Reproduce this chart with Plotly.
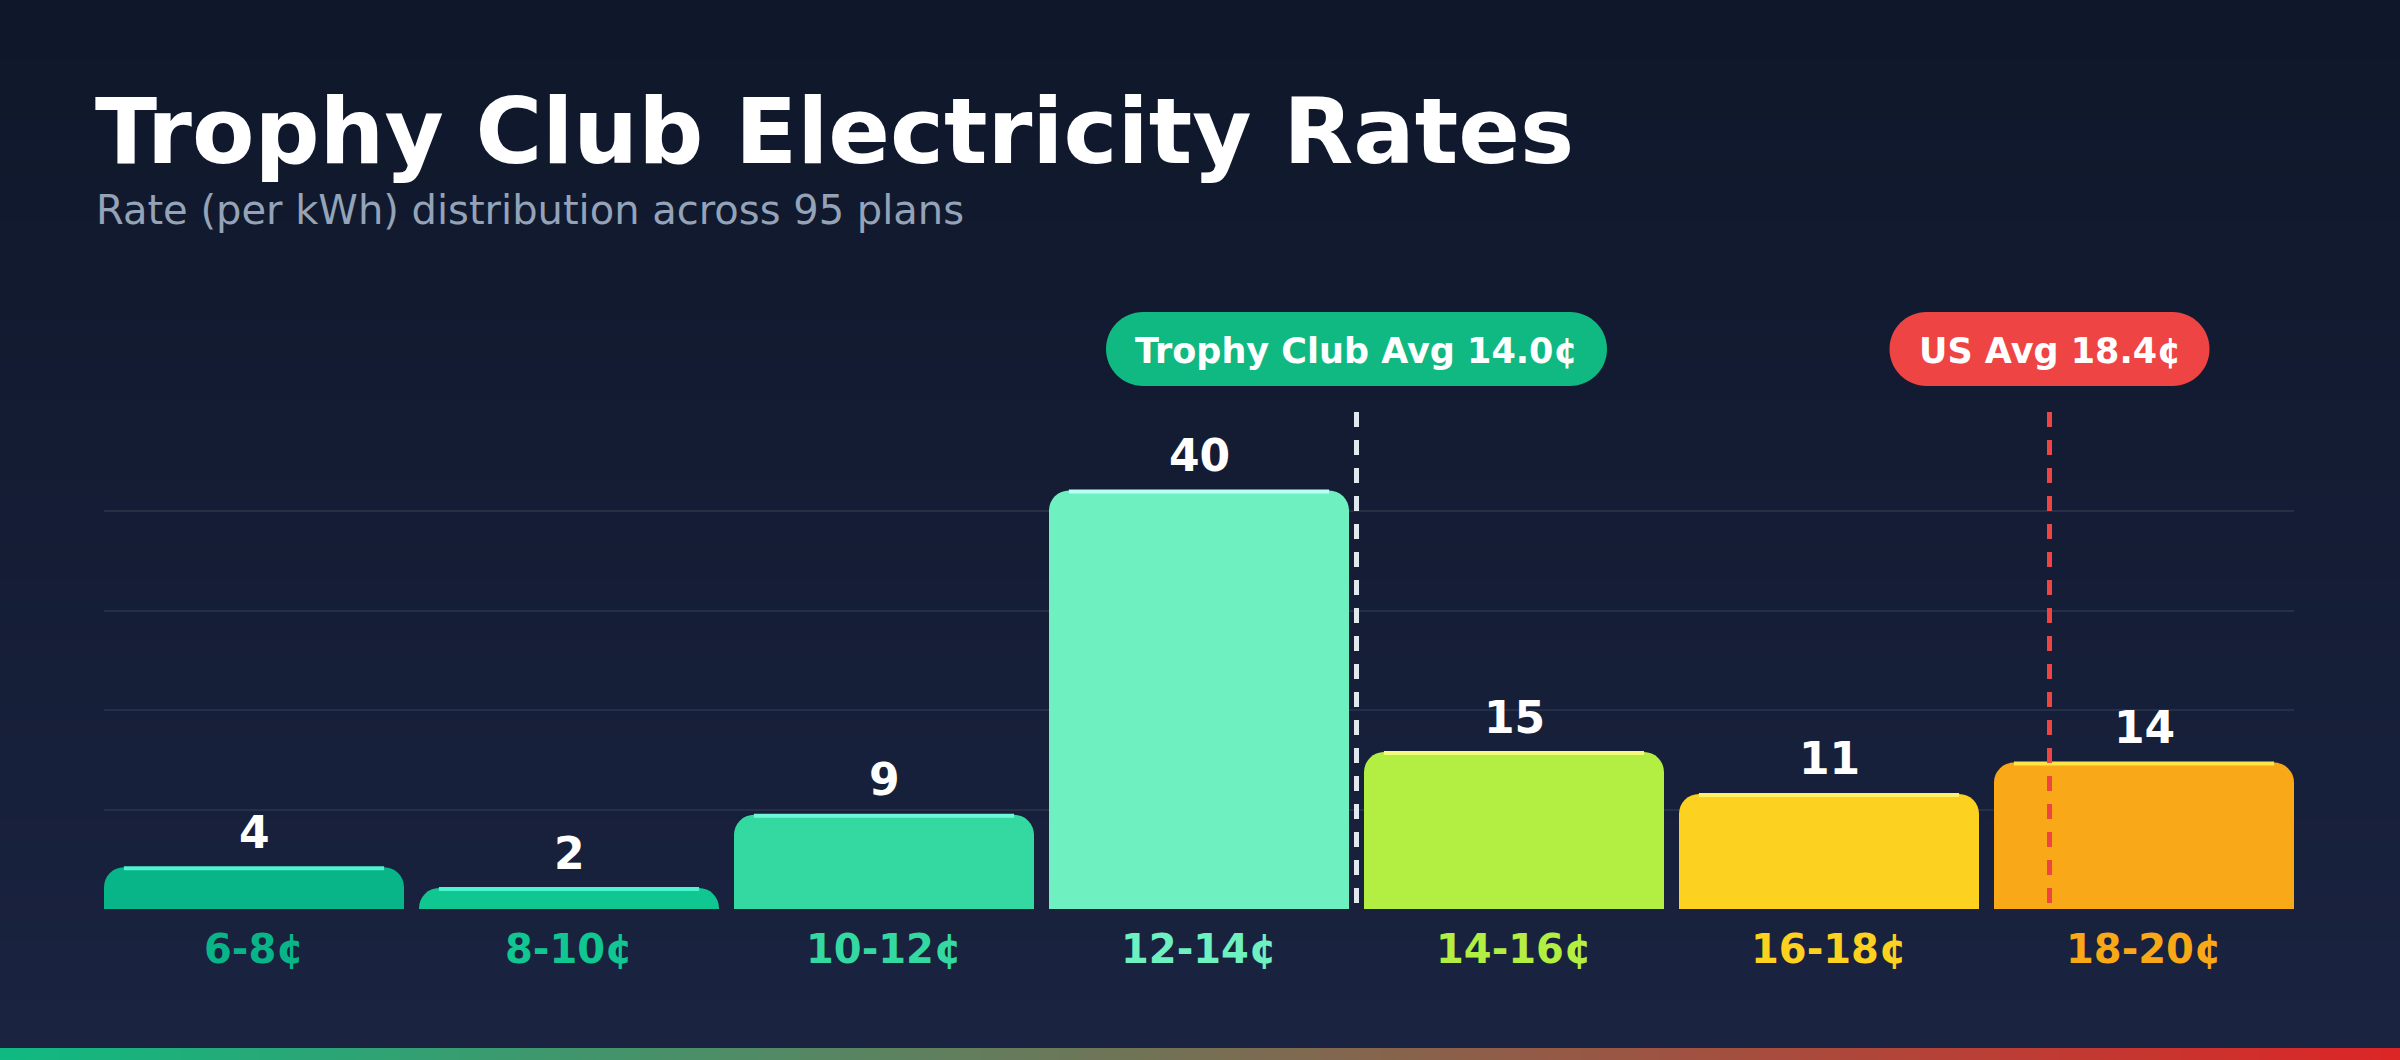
import plotly.graph_objects as go

# rate bins (cents per kWh) and number of plans in each
bins = ["6-8¢", "8-10¢", "10-12¢", "12-14¢", "14-16¢", "16-18¢", "18-20¢"]
bin_start = [6, 8, 10, 12, 14, 16, 18]
plans = [4, 2, 9, 40, 15, 11, 14]

bar_colors = ["#07b589", "#10c791", "#34d9a2", "#6ef0c0", "#b3ee42", "#fdd120", "#f9a817"]
glow_colors = ["#4cf5cf", "#4cf5cf", "#6ff7d9", "#b8fff6", "#f4fb7a", "#fdf36a", "#fde547"]

# reference averages
avg_labels = ["Trophy Club Avg 14.0¢", "US Avg 18.4¢"]
avg_rates = [14.0, 18.4]
avg_colors = ["#10b981", "#ef4444"]
line_colors = ["#e2e8f0", "#ef4444"]

W, H = 2400, 1060
L, R, T, B = 104, 106, 412, 151
PW, PH = W - L - R, H - T - B
FONT = "DejaVu Sans"


def px_x(px):
    return (px - L) / PW


def px_y(py):
    return (H - B - py) / PH


def mix(c1, c2, t):
    a = [int(c1[i:i + 2], 16) for i in (1, 3, 5)]
    b = [int(c2[i:i + 2], 16) for i in (1, 3, 5)]
    return "rgb(%d,%d,%d)" % tuple(round(a[k] + (b[k] - a[k]) * t) for k in range(3))


bin_w = bin_start[1] - bin_start[0]


def rate_pos(r):
    return (r - bin_start[0]) / bin_w - 0.5


xpos = list(range(len(bins)))
gap = 15 / 315

fig = go.Figure()
fig.add_trace(go.Bar(
    x=xpos, y=plans,
    marker=dict(color=bar_colors, cornerradius=20, line_width=0),
    hoverinfo="skip",
))

shapes = []
# background gradient
n = 53
for i in range(n):
    shapes.append(dict(
        type="rect", xref="paper", yref="paper", layer="below",
        x0=px_x(0), x1=px_x(W), y0=px_y(i * 20 + 21), y1=px_y(i * 20),
        fillcolor=mix("#0f172a", "#1a2340", i / (n - 1)), line_width=0,
    ))
# bottom accent strip
m = 120
for i in range(m):
    shapes.append(dict(
        type="rect", xref="paper", yref="paper", layer="above",
        x0=px_x(i * 20), x1=px_x(i * 20 + 21), y0=px_y(H), y1=px_y(1048),
        fillcolor=mix("#10b981", "#dc2626", i / (m - 1)), line_width=0,
    ))

# glow strip on top of each bar
for i, v in enumerate(plans):
    shapes.append(dict(
        type="rect", xref="x", yref="y", layer="above",
        x0=i - 0.413, x1=i + 0.413,
        ysizemode="pixel", yanchor=v, y0=-3, y1=1,
        fillcolor=glow_colors[i], line_width=0,
    ))

annotations = []
# average markers: dashed line + pill label
pill_w = [501, 320]
for j, r in enumerate(avg_rates):
    xp = rate_pos(r)
    shapes.append(dict(
        type="line", xref="x", yref="paper", layer="above",
        x0=xp, x1=xp, y0=1, y1=0,
        line=dict(color=line_colors[j], width=5, dash="15px,13px"),
    ))
    w = pill_w[j] / 2
    rr = 37
    k = 0.5523 * rr
    cy = 63
    path = (
        f"M{-w + rr},{cy - rr} L{w - rr},{cy - rr} "
        f"C{w - rr + k},{cy - rr} {w},{cy - k} {w},{cy} "
        f"C{w},{cy + k} {w - rr + k},{cy + rr} {w - rr},{cy + rr} "
        f"L{-w + rr},{cy + rr} "
        f"C{-w + rr - k},{cy + rr} {-w},{cy + k} {-w},{cy} "
        f"C{-w},{cy - k} {-w + rr - k},{cy - rr} {-w + rr},{cy - rr} Z"
    )
    shapes.append(dict(
        type="path", xref="x", yref="paper", layer="above",
        xsizemode="pixel", xanchor=xp, ysizemode="pixel", yanchor=1,
        path=path, fillcolor=avg_colors[j], line_width=0,
    ))
    annotations.append(dict(
        x=xp, y=1, xref="x", yref="paper", yshift=61,
        text=avg_labels[j], showarrow=False, xanchor="center", yanchor="middle",
        font=dict(family=FONT, size=35, color="white", weight="bold"),
    ))

# value labels and category labels
for i, v in enumerate(plans):
    annotations.append(dict(
        x=i, y=v, xref="x", yref="y", yshift=35,
        text=str(v), showarrow=False, xanchor="center", yanchor="middle",
        font=dict(family=FONT, size=44, color="white", weight="bold"),
    ))
    annotations.append(dict(
        x=i, y=0, xref="x", yref="y", yshift=-40,
        text=bins[i], showarrow=False, xanchor="center", yanchor="middle",
        font=dict(family=FONT, size=40, color=bar_colors[i], weight="bold"),
    ))

# title and subtitle
annotations.append(dict(
    x=px_x(93), y=px_y(131), xref="paper", yref="paper",
    text="Trophy Club Electricity Rates", showarrow=False,
    xanchor="left", yanchor="middle",
    font=dict(family=FONT, size=91, color="white", weight="bold"),
))
annotations.append(dict(
    x=px_x(94), y=px_y(210), xref="paper", yref="paper",
    text="Rate (per kWh) distribution across 95 plans", showarrow=False,
    xanchor="left", yanchor="middle",
    font=dict(family=FONT, size=40, color="#94a3b8"),
))

fig.update_layout(
    width=W, height=H,
    margin=dict(l=L, r=R, t=T, b=B, pad=0),
    paper_bgcolor="#151d33",
    plot_bgcolor="rgba(0,0,0,0)",
    showlegend=False,
    bargap=gap,
    xaxis=dict(range=[-0.5 + gap / 2, len(bins) - 0.5 - gap / 2], showgrid=False,
               showticklabels=False, zeroline=False, fixedrange=True),
    yaxis=dict(range=[0, 47.5], tickvals=[9.5, 19, 28.5, 38], showticklabels=False,
               gridcolor="#253045", gridwidth=1.5, zeroline=False, fixedrange=True),
    shapes=shapes,
    annotations=annotations,
)

fig.write_html(
    "out.html",
    config={"displayModeBar": False},
    post_script="document.body.style.margin='0';document.body.style.background='#0f172a';",
)
